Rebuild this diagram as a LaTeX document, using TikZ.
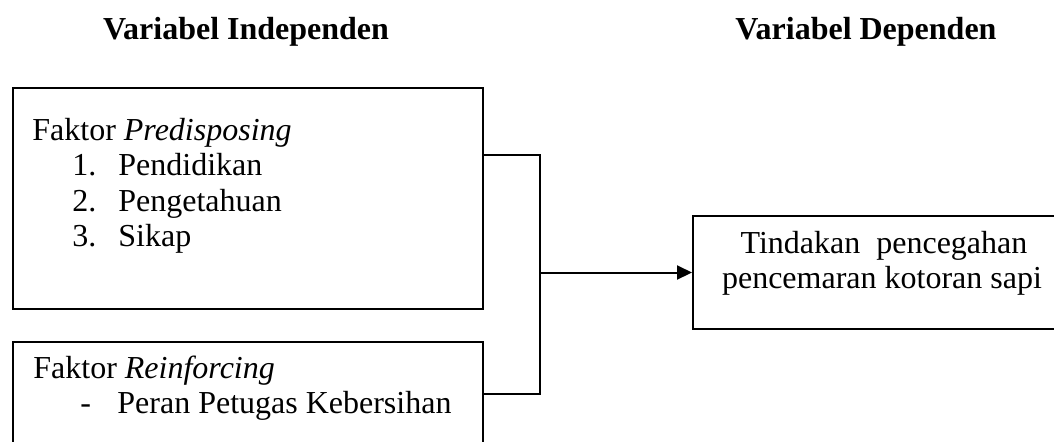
\documentclass[tikz,border=0pt]{standalone}
\usepackage{fontspec}
\setmainfont{Liberation Serif}
\usetikzlibrary{arrows.meta,positioning,calc}

\begin{document}
\begin{tikzpicture}[x=0.5pt, y=-0.5pt, > = {Triangle[length=7.5pt,width=7pt]}, font=\fontsize{16}{18}\selectfont]
  \tikzstyle{box}=[draw, line width=1pt, rectangle, inner sep=0pt, anchor=north west]
  \tikzstyle{txt}=[anchor=base west, inner sep=0pt]
  \tikzstyle{head}=[anchor=base, inner sep=0pt, font=\fontsize{16}{18}\selectfont\bfseries]

  \useasboundingbox (0,0) rectangle (1054,441);

  % Judul
  \node[head] (hind) at (246,39) {Variabel Independen};
  \node[head] (hdep) at (866,39) {Variabel Dependen};

  % Kotak
  \node[box, minimum width=235pt, minimum height=110.5pt] (pred) at (12,87) {};
  \node[box, minimum width=235pt, minimum height=70pt] (reinf) at (12,341) {};
  \node[box, minimum width=193pt, minimum height=56.5pt] (dep) at (692,215) {};

  % Isi kotak
  \node[txt] (predjudul) at (32,140) {Faktor \textit{Predisposing}};
  \foreach \t [count=\i] in {Pendidikan, Pengetahuan, Sikap}
    \node[txt] (pred\i) at (72,{140+35.5*\i}) {\makebox[23pt][l]{\i.}\t};
  \node[txt] (reinfjudul) at (33,378) {Faktor \textit{Reinforcing}};
  \node[txt] (reinf1) at (80,413.5) {\makebox[18.5pt][l]{-}Peran Petugas Kebersihan};
  \node[anchor=base, inner sep=0pt] (dep1) at (884,253) {Tindakan\ \ pencegahan};
  \node[anchor=base, inner sep=0pt] (dep2) at (882,288) {pencemaran kotoran sapi};

  % Garis
  \coordinate (ja) at (540,155);
  \coordinate (jb) at (540,394);
  \draw[line width=1pt] (pred.east |- ja) -- (ja) -- (jb) -- (reinf.east |- jb);
  \draw[->, line width=1pt] (ja |- dep.west) -- (dep.west);
\end{tikzpicture}
\end{document}
